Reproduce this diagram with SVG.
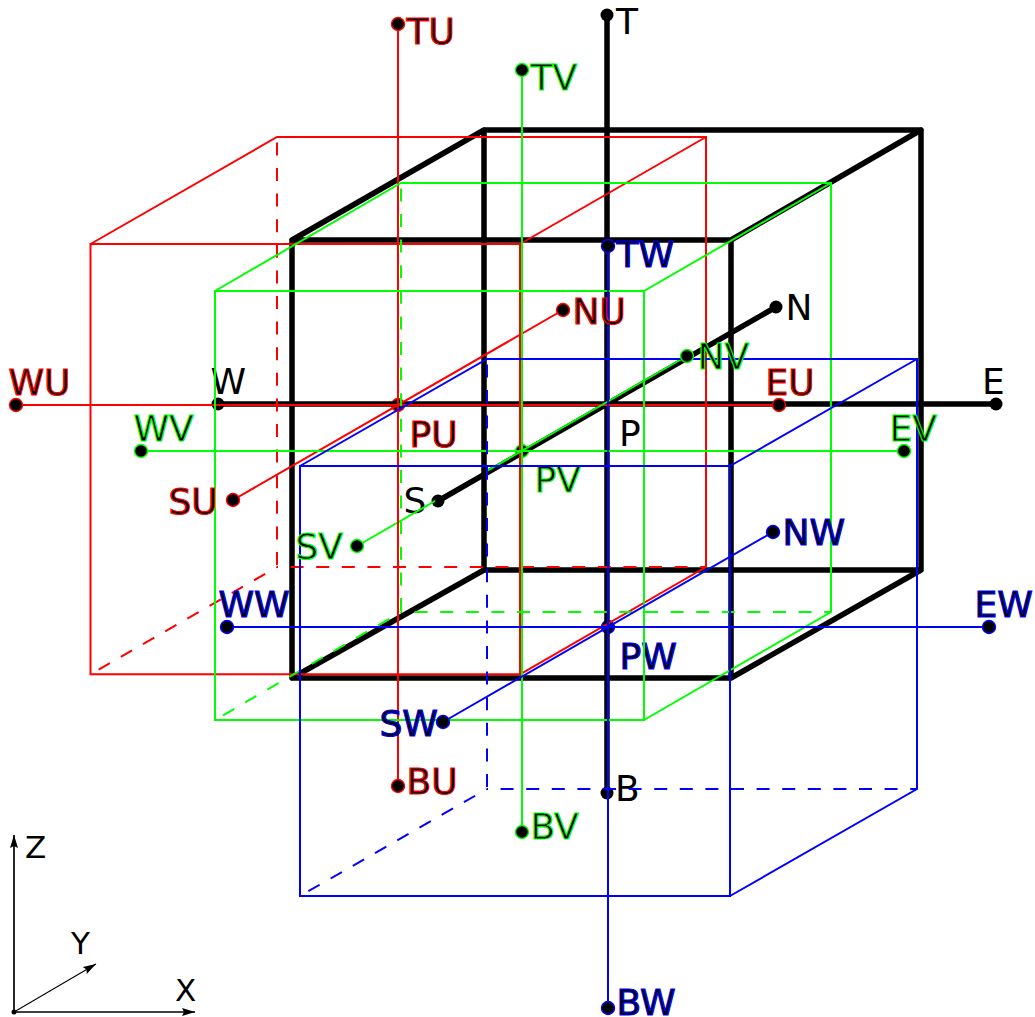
<svg xmlns="http://www.w3.org/2000/svg" width="1035" height="1017" viewBox="0 0 1035 1017">
<style>
.k{stroke:#000;stroke-width:5.5;fill:none;stroke-linejoin:round;stroke-linecap:round}
.r{stroke:#f00;stroke-width:2;fill:none}
.g{stroke:#0f0;stroke-width:2;fill:none}
.b{stroke:#00f;stroke-width:2;fill:none}
.dv{stroke-dasharray:13 12.6;stroke-dashoffset:20.2}
.dh{stroke-dasharray:13 12.6;stroke-dashoffset:12}
.ax{stroke:#000;stroke-width:1.7;fill:none}
text{font-family:"DejaVu Sans",sans-serif;font-size:36px;fill:#000}
.tr{stroke:#f00;stroke-width:1.2}
.tg{stroke:#0f0;stroke-width:1.2}
.tb{stroke:#00f;stroke-width:1.2}
.al{font-size:31px}
.pk{fill:#000}
.pr{fill:#000;stroke:#f00;stroke-width:1.4}
.pg{fill:#000;stroke:#0f0;stroke-width:1.4}
.pb{fill:#000;stroke:#00f;stroke-width:1.4}
</style>
<defs>
<marker id="ah" markerUnits="userSpaceOnUse" markerWidth="14" markerHeight="10" refX="13" refY="5" orient="auto"><path d="M0 1L13 5L0 9L2 5Z" fill="#000"/></marker>
</defs>
<g id="T"><circle cx="607" cy="15" r="6.5" class="pk"/><text x="616" y="34">T</text></g>
<g id="B"><circle cx="607" cy="793" r="6.5" class="pk"/><text x="615" y="801">B</text></g>
<g id="W"><circle cx="218" cy="404" r="6.5" class="pk"/><text x="210.500" y="394">W</text></g>
<g id="E"><circle cx="996" cy="404" r="6.5" class="pk"/><text x="982" y="394">E</text></g>
<g id="S"><circle cx="438" cy="501" r="6.5" class="pk"/><text x="403.500" y="513">S</text></g>
<g id="N"><circle cx="776" cy="307" r="6.5" class="pk"/><text x="785.500" y="320">N</text></g>
<g id="P"><text x="619" y="446">P</text></g>
<g id="PU"><circle cx="398" cy="405" r="6.5" class="pr"/><text class="tr" x="409.500" y="447">PU</text></g>
<g id="PV"><circle cx="522" cy="451" r="6.5" class="pg"/><text class="tg" x="534.500" y="492">PV</text></g>
<g id="PW"><circle cx="608" cy="627" r="6.5" class="pb"/><text class="tb" x="619.500" y="669">PW</text></g>
<g id="connectors">
<path class="g" d="M357 546L487 471"/>
<g id="cube-black" class="k">
<path d="M292 240H731V678H292ZM484 130H921V570H484ZM292 240L484 130M731 240L921 130M731 678L921 570M292 678L484 570"/>
<path d="M607 15V793M218 404H996M438 501L776 307"/>
</g>
<g id="cube-red">
<path class="r" d="M90.500 244H520V674.300H90.500ZM90.500 244L277 137H706V567L520 674.300M520 244L706 137"/>
<path class="r dv" d="M277 137V567"/>
<path class="r dh" d="M277 567H706"/>
<path class="r dh" d="M277 567L90.500 674.300"/>
<path class="r" d="M398 24V786M16 405H779M233 500L563 310"/>
</g>
<g id="cube-green">
<path class="g" d="M215 291H644V720H215ZM215 291L401 183H831V612L644 720M644 291L831 183"/>
<path class="g dv" d="M401 183V612"/>
<path class="g dh" d="M401 612H831"/>
<path class="g dh" d="M401 612L215 720"/>
<path class="g" d="M522 70V832M141 451H904M487 471L687 356"/>
</g>
<g id="cube-blue">
<path class="b" d="M300 466H730V896H300ZM300 466L487 359H917V789L730 896M730 466L917 359"/>
<path class="b dv" d="M487 359V789"/>
<path class="b dh" d="M487 789H917"/>
<path class="b dh" d="M487 789L300 896"/>
<path class="b" d="M608 246V1008M227 627H989M443 722L773 532"/>
</g>
<g id="axes">
<path class="ax" d="M14 1012V835" marker-end="url(#ah)"/>
<path class="ax" d="M14 1012H195" marker-end="url(#ah)"/>
<path class="ax" d="M14 1012L96 964" marker-end="url(#ah)" style="stroke-width:1.1"/>
</g>
</g>
<g id="origin"><circle cx="14" cy="1012" r="2.500" class="pk"/></g>
<g id="TU"><circle cx="398" cy="24" r="6.5" class="pr"/><text class="tr" x="406.500" y="44">TU</text></g>
<g id="BU"><circle cx="398" cy="786" r="6.5" class="pr"/><text class="tr" x="406.500" y="793.500">BU</text></g>
<g id="WU"><circle cx="16" cy="405" r="6.5" class="pr"/><text class="tr" x="8.500" y="395">WU</text></g>
<g id="EU"><circle cx="779" cy="405" r="6.5" class="pr"/><text class="tr" x="765.500" y="395">EU</text></g>
<g id="SU"><circle cx="233" cy="500" r="6.5" class="pr"/><text class="tr" x="168.500" y="514">SU</text></g>
<g id="NU"><circle cx="563" cy="310" r="6.5" class="pr"/><text class="tr" x="572.500" y="324">NU</text></g>
<g id="TV"><circle cx="522" cy="70" r="6.5" class="pg"/><text class="tg" x="530.500" y="89.500">TV</text></g>
<g id="BV"><circle cx="522" cy="832" r="6.5" class="pg"/><text class="tg" x="530.500" y="839">BV</text></g>
<g id="WV"><circle cx="141" cy="451" r="6.5" class="pg"/><text class="tg" x="133.500" y="441">WV</text></g>
<g id="EV"><circle cx="904" cy="451" r="6.5" class="pg"/><text class="tg" x="889.500" y="441">EV</text></g>
<g id="SV"><circle cx="357" cy="546" r="6.5" class="pg"/><text class="tg" x="295.500" y="559">SV</text></g>
<g id="NV"><circle cx="687" cy="356" r="6.5" class="pg"/><text class="tg" x="697.500" y="369">NV</text></g>
<g id="TW"><circle cx="608" cy="246" r="6.5" class="pb"/><text class="tb" x="616.500" y="266.500">TW</text></g>
<g id="BW"><circle cx="608" cy="1008" r="6.5" class="pb"/><text class="tb" x="616.500" y="1014.500">BW</text></g>
<g id="WW"><circle cx="227" cy="627" r="6.5" class="pb"/><text class="tb" x="218.500" y="617">WW</text></g>
<g id="EW"><circle cx="989" cy="627" r="6.5" class="pb"/><text class="tb" x="974.500" y="617">EW</text></g>
<g id="SW"><circle cx="443" cy="722" r="6.5" class="pb"/><text class="tb" x="379.500" y="736">SW</text></g>
<g id="NW"><circle cx="773" cy="532" r="6.5" class="pb"/><text class="tb" x="782.500" y="545">NW</text></g>
<text class="al" x="25" y="858">Z</text>
<text class="al" x="71" y="953.500">Y</text>
<text class="al" x="175" y="1000.500">X</text>
</svg>
